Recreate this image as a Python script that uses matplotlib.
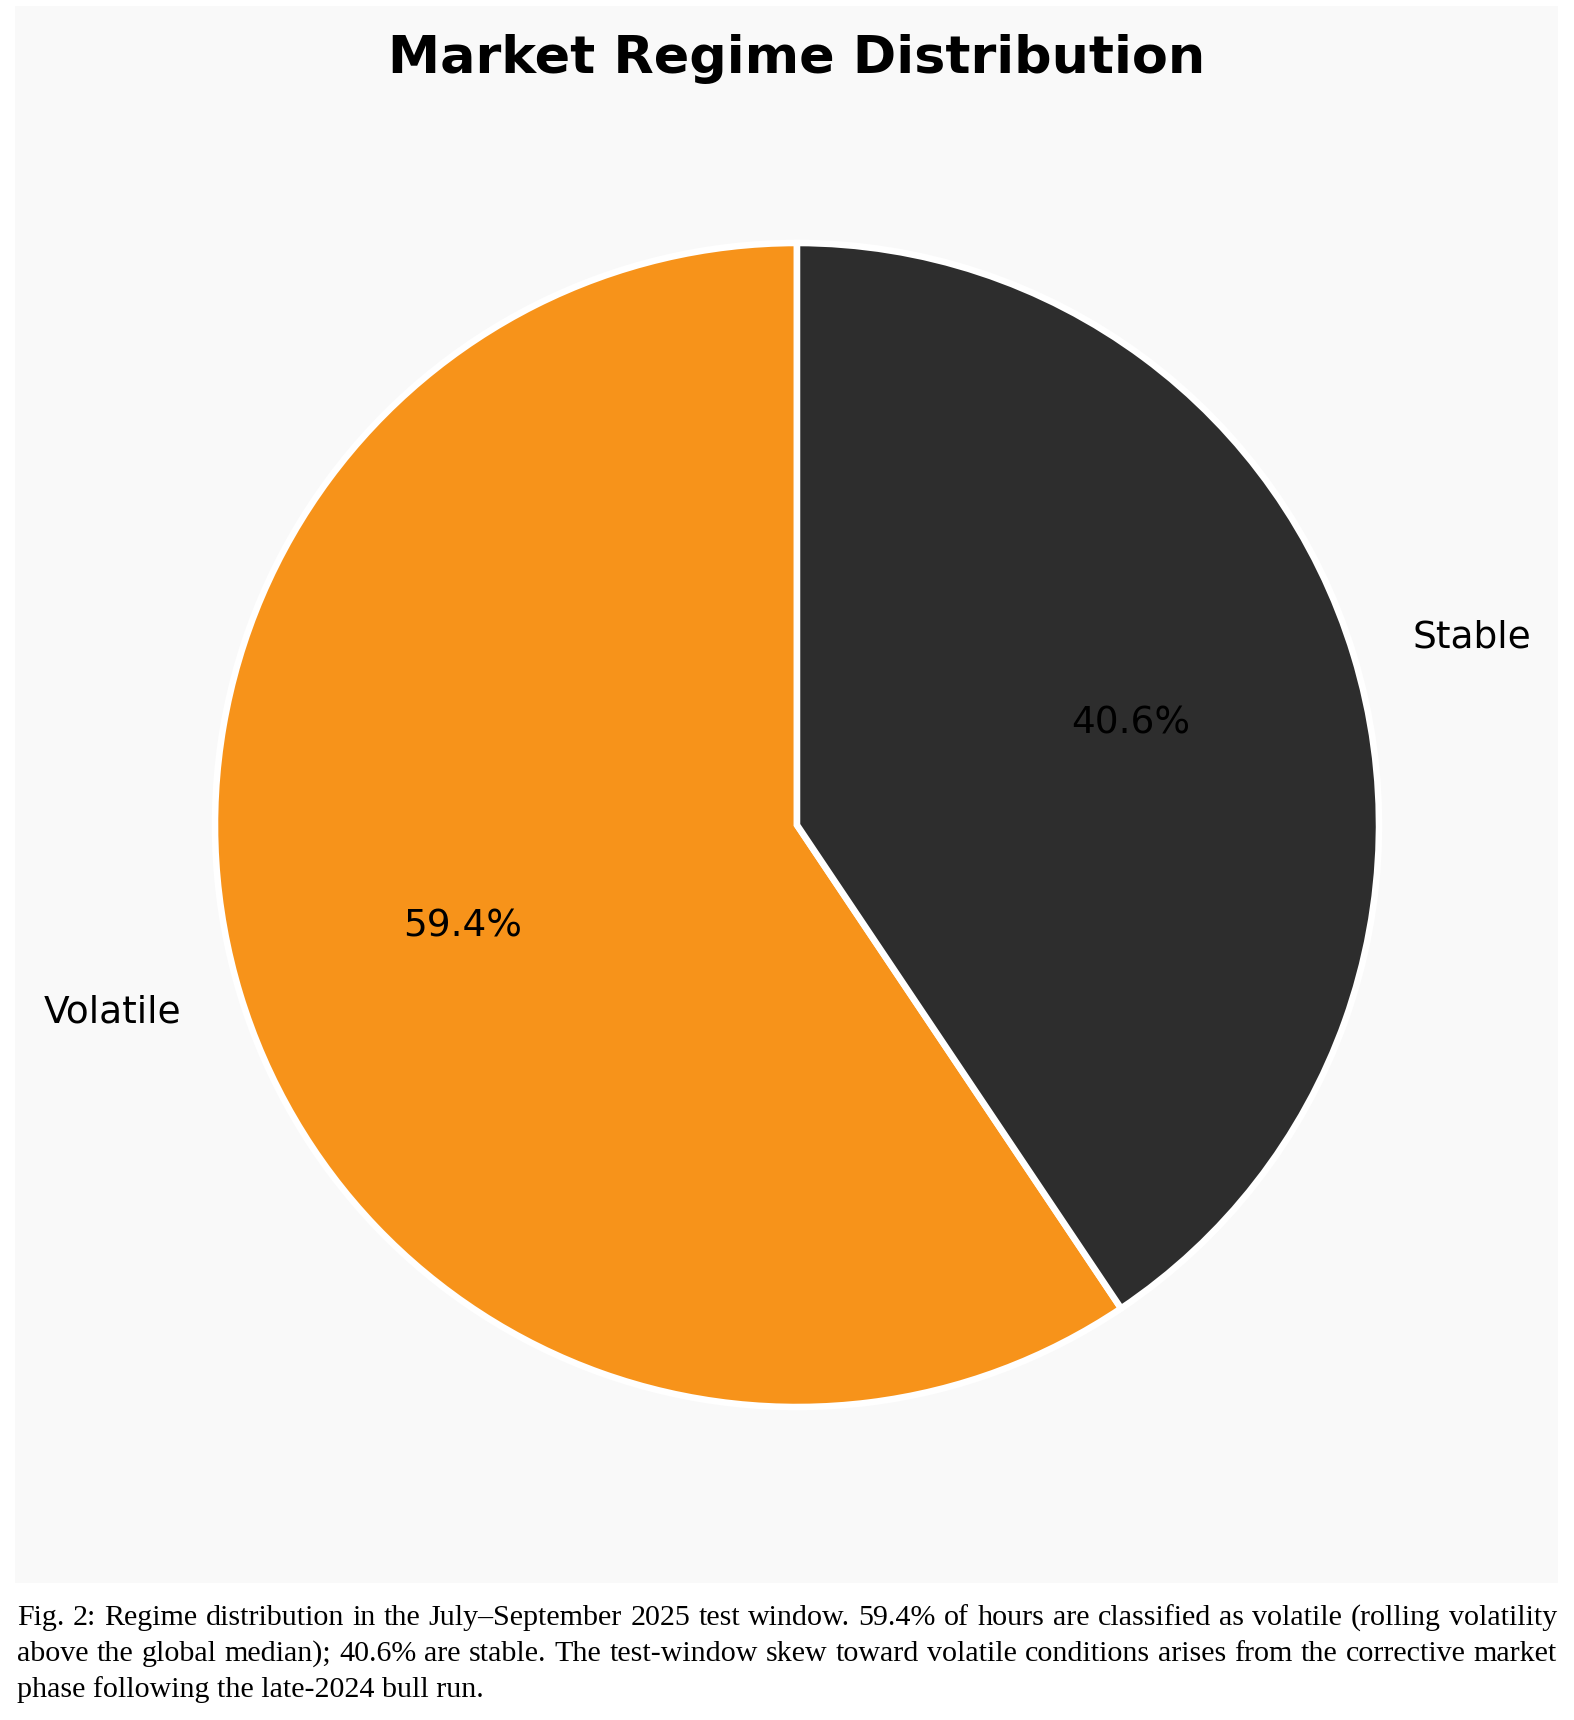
import matplotlib
matplotlib.use("Agg")
import matplotlib.pyplot as plt
from matplotlib.patches import Rectangle

# data
regimes = ["Volatile", "Stable"]
shares = [59.4, 40.6]
colors = ["#F7931A", "#2D2D2D"]

title = "Market Regime Distribution"
caption_lines = [
    "Fig. 2: Regime distribution in the July\u2013September 2025 test window. 59.4% of hours are classified as volatile (rolling volatility",
    "above the global median); 40.6% are stable. The test-window skew toward volatile conditions arises from the corrective market",
    "phase following the late-2024 bull run.",
]

W, H = 1574, 1720
fig = plt.figure(figsize=(W / 100, H / 100), dpi=100, facecolor="white")

# light grey panel of the embedded chart
fig.patches.append(Rectangle((15 / W, 1 - 1583 / H), (1558 - 15) / W, (1583 - 6) / H,
                             transform=fig.transFigure, facecolor="#f9f9f9",
                             edgecolor="none", zorder=-10))

R, cx, cy = 582, 797, 825
ax = fig.add_axes([(cx - R) / W, (H - cy - R) / H, 2 * R / W, 2 * R / H])
ax.pie(shares, labels=regimes, colors=colors, autopct="%1.1f%%", startangle=90,
       pctdistance=0.6, labeldistance=1.105,
       wedgeprops=dict(edgecolor="white", linewidth=4.7),
       textprops=dict(fontsize=27, color="black"))
ax.set_xlim(-1, 1)
ax.set_ylim(-1, 1)

fig.text(cx / W, 1 - 73 / H, title, ha="center", va="baseline",
         fontsize=37.7, fontweight="bold")

# justified caption in a Times-like face
cap_font = dict(family="Liberation Serif", fontsize=21.6, color="black")
left, right = 17, 1557
baselines = [1625, 1661, 1697]
renderer = fig.canvas.get_renderer()
for i, (line, yb) in enumerate(zip(caption_lines, baselines)):
    y = 1 - yb / H
    if i == len(caption_lines) - 1:
        fig.text(left / W, y, line, ha="left", va="baseline", **cap_font)
        continue
    words = line.split(" ")
    texts = [fig.text(0, y, w, ha="left", va="baseline", **cap_font) for w in words]
    widths = [t.get_window_extent(renderer).width for t in texts]
    gap = (right - left - sum(widths)) / (len(words) - 1)
    x = left
    for t, w in zip(texts, widths):
        t.set_x(x / W)
        x += w + gap

fig.savefig("out.png", dpi=100, facecolor="white")
